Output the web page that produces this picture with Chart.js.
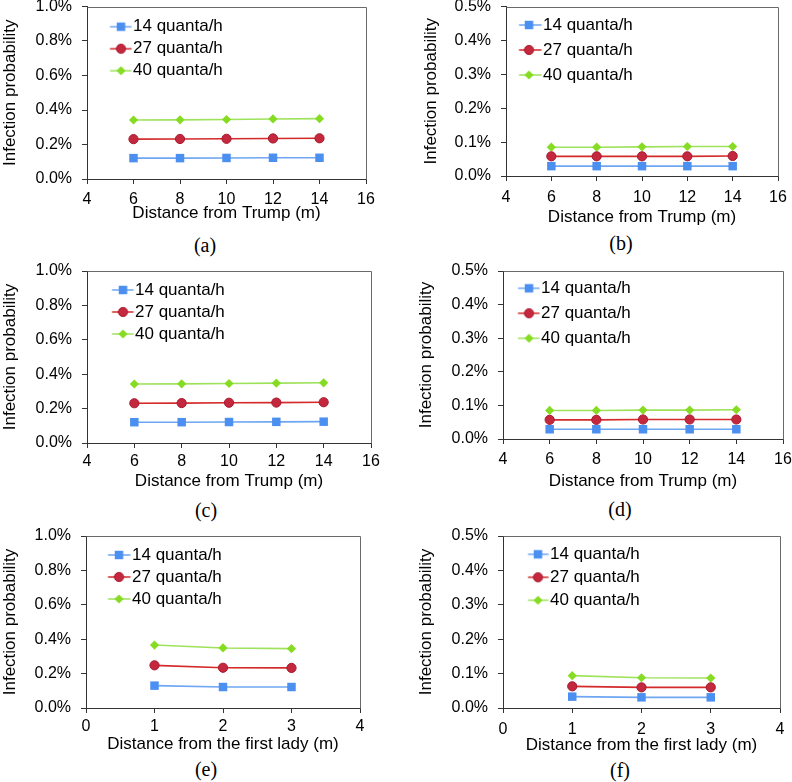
<!DOCTYPE html>
<html><head><meta charset="utf-8">
<script src="https://cdn.jsdelivr.net/npm/chart.js@4.4.1/dist/chart.umd.min.js"></script>
<style>
html,body{margin:0;padding:0;background:#fff;width:792px;height:782px;overflow:hidden;position:relative}
canvas{position:absolute}
.cap{position:absolute;font-family:"Liberation Serif","Times New Roman",serif;font-size:20px;color:#000;transform:translate(-50%,-50%);white-space:nowrap;line-height:1}
</style></head><body>
<script>
// ---------------- data ----------------
const distTrump = [6, 8, 10, 12, 14];
const distLady = [1, 2, 3];
const seriesLabels = ['14 quanta/h', '27 quanta/h', '40 quanta/h'];
const captions = ['(a)', '(b)', '(c)', '(d)', '(e)', '(f)'];
const xTitleTrump = 'Distance from Trump (m)';
const xTitleLady = 'Distance from the first lady (m)';
const yTitleText = 'Infection probability';

// infection probability, in %
const aQ14 = [0.121, 0.121, 0.122, 0.123, 0.123];
const aQ27 = [0.231, 0.232, 0.233, 0.235, 0.236];
const aQ40 = [0.342, 0.343, 0.345, 0.348, 0.350];
const bQ14 = [0.029, 0.029, 0.029, 0.029, 0.029];
const bQ27 = [0.058, 0.058, 0.058, 0.058, 0.059];
const bQ40 = [0.085, 0.085, 0.086, 0.087, 0.087];
const cQ14 = [0.121, 0.121, 0.122, 0.123, 0.124];
const cQ27 = [0.231, 0.232, 0.234, 0.235, 0.237];
const cQ40 = [0.343, 0.344, 0.346, 0.348, 0.350];
const dQ14 = [0.029, 0.029, 0.029, 0.029, 0.029];
const dQ27 = [0.057, 0.057, 0.058, 0.058, 0.058];
const dQ40 = [0.085, 0.085, 0.086, 0.086, 0.087];
const eQ14 = [0.130, 0.122, 0.122];
const eQ27 = [0.248, 0.234, 0.233];
const eQ40 = [0.366, 0.349, 0.345];
const fQ14 = [0.033, 0.031, 0.031];
const fQ27 = [0.063, 0.060, 0.060];
const fQ40 = [0.094, 0.088, 0.087];

// axis ranges [min, max, step]
const xRangeTrump = [4, 16, 2];
const xRangeLady = [0, 4, 1];
const yRangeHigh = [0, 1.0, 0.2];
const yRangeLow = [0, 0.5, 0.1];

// ---------------- styles & layout ----------------
const FONT = '"Liberation Sans", Arial, sans-serif';
const styles = [
  {line: '#6ea6f2', fill: '#4b8ff0', border: '#4b8ff0', shape: 'rect', r: 6},
  {line: '#d42a2a', fill: '#c4283e', border: '#a8182c', shape: 'circle', r: 4.6},
  {line: '#9ee25a', fill: '#86dc22', border: '#86dc22', shape: 'rectRot', r: 4.6}
];

const panels = [
  {x: distTrump, s: [aQ14, aQ27, aQ40], xr: xRangeTrump, yr: yRangeHigh, xt: xTitleTrump,
   g: {cx: 0, cy: 0, L: 87, R: 366, T: 6.5, B: 179, tickY: 200, titleY: 213.5, yTitleX: 10,
       leg: {pad: 5, firstY: 26.7, s: 23, m: 34, t: 46}, cap: [205, 245]}},
  {x: distTrump, s: [bQ14, bQ27, bQ40], xr: xRangeTrump, yr: yRangeLow, xt: xTitleTrump,
   g: {cx: 396, cy: 0, L: 506, R: 778, T: 6.5, B: 176, tickY: 198, titleY: 217, yTitleX: 431,
       leg: {pad: 8, firstY: 25, s: 13, m: 23, t: 37}, cap: [621, 243]}},
  {x: distTrump, s: [cQ14, cQ27, cQ40], xr: xRangeTrump, yr: yRangeHigh, xt: xTitleTrump,
   g: {cx: 0, cy: 255, L: 87, R: 371, T: 271, B: 443, tickY: 462, titleY: 481, yTitleX: 10,
       leg: {pad: 5, firstY: 290, s: 25, m: 36, t: 48}, cap: [206, 510]}},
  {x: distTrump, s: [dQ14, dQ27, dQ40], xr: xRangeTrump, yr: yRangeLow, xt: xTitleTrump,
   g: {cx: 396, cy: 255, L: 503, R: 783, T: 271, B: 439, tickY: 460, titleY: 481, yTitleX: 426,
       leg: {pad: 8, firstY: 288.3, s: 15, m: 26, t: 38}, cap: [620, 509]}},
  {x: distLady, s: [eQ14, eQ27, eQ40], xr: xRangeLady, yr: yRangeHigh, xt: xTitleLady,
   g: {cx: 0, cy: 520, L: 86, R: 360, T: 536, B: 708, tickY: 727, titleY: 744.5, yTitleX: 10,
       leg: {pad: 5, firstY: 555, s: 22, m: 33, t: 46}, cap: [206, 769]}},
  {x: distLady, s: [fQ14, fQ27, fQ40], xr: xRangeLady, yr: yRangeLow, xt: xTitleLady,
   g: {cx: 396, cy: 520, L: 503, R: 780, T: 536, B: 708, tickY: 729.5, titleY: 745.5, yTitleX: 426,
       leg: {pad: 6, firstY: 554.3, s: 25, m: 35, t: 47}, cap: [620, 770]}}
];

Chart.defaults.font.family = FONT;
Chart.defaults.color = '#000';

function drawMarker(ctx, st, x, y) {
  ctx.fillStyle = st.fill; ctx.strokeStyle = st.border; ctx.lineWidth = 1;
  ctx.beginPath();
  if (st.shape === 'rect') {
    const h = st.r * Math.SQRT1_2; ctx.rect(x - h, y - h, 2 * h, 2 * h);
  } else if (st.shape === 'circle') {
    ctx.arc(x, y, st.r, 0, Math.PI * 2);
  } else {
    ctx.moveTo(x - st.r, y); ctx.lineTo(x, y - st.r); ctx.lineTo(x + st.r, y); ctx.lineTo(x, y + st.r); ctx.closePath();
  }
  ctx.fill();
  if (st.shape === 'circle') ctx.stroke();
}

function makeIcon(st, leg) {
  const P = leg.t - leg.pad - 8.5;
  const c = leg.pad + P / 2;
  const lineEnd = leg.t - 1.5;
  const half = Math.max(c - leg.s, lineEnd - c) + 1;
  const W = Math.ceil(2 * half), H = 14;
  const cv = document.createElement('canvas');
  cv.width = W; cv.height = H;
  const ctx = cv.getContext('2d');
  const off = c - W / 2;
  ctx.strokeStyle = st.line; ctx.lineWidth = 1.5;
  ctx.beginPath(); ctx.moveTo(leg.s - off, H / 2); ctx.lineTo(lineEnd - off, H / 2); ctx.stroke();
  drawMarker(ctx, st, leg.m - off, H / 2);
  return {icon: cv, P};
}

const boxPlugin = {
  id: 'box',
  beforeDatasetsDraw(chart) {
    const {ctx, chartArea: a} = chart;
    ctx.save();
    ctx.strokeStyle = '#6a6a6a'; ctx.lineWidth = 1;
    ctx.beginPath();
    ctx.moveTo(Math.round(a.left) + 0.5, Math.round(a.top) + 0.5);
    ctx.lineTo(Math.round(a.right) + 0.5, Math.round(a.top) + 0.5);
    ctx.lineTo(Math.round(a.right) + 0.5, Math.round(a.bottom) + 0.5);
    ctx.stroke();
    ctx.restore();
  }
};

function noPad(s) { s.paddingTop = 0; s.paddingBottom = 0; s.paddingLeft = 0; s.paddingRight = 0; }

panels.forEach((p, idx) => {
  const g = p.g;
  const h = Math.ceil(g.titleY + 10.2 - g.cy + 1);
  const cv = document.createElement('canvas');
  cv.width = 396; cv.height = h;
  cv.style.left = g.cx + 'px'; cv.style.top = g.cy + 'px';
  cv.style.width = '396px'; cv.style.height = h + 'px';
  document.body.appendChild(cv);

  const cap = document.createElement('div');
  cap.className = 'cap';
  cap.textContent = captions[idx];
  cap.style.left = g.cap[0] + 'px'; cap.style.top = g.cap[1] + 'px';
  document.body.appendChild(cap);

  const icons = styles.map(st => makeIcon(st, g.leg));
  const xAxisH = h - (g.B - g.cy);
  // legend box top sits at the canvas top: offset its first row with an empty title block
  const legTitleH = (g.leg.firstY - g.cy) - g.leg.pad - 8.5;

  const datasets = p.s.map((vals, i) => ({
    label: seriesLabels[i],
    data: p.x.map((xv, k) => ({x: xv, y: vals[k]})),
    borderColor: styles[i].line,
    backgroundColor: styles[i].fill,
    pointBackgroundColor: styles[i].fill,
    pointBorderColor: styles[i].border,
    pointBorderWidth: styles[i].shape === 'circle' ? 1 : 0,
    pointStyle: styles[i].shape,
    pointRadius: styles[i].r,
    borderWidth: 1.6,
    tension: 0,
    clip: false
  }));

  new Chart(cv, {
    type: 'line',
    data: {datasets},
    plugins: [boxPlugin],
    options: {
      responsive: false,
      animation: false,
      devicePixelRatio: 1,
      layout: {padding: {left: 0, top: g.T - g.cy, right: g.cx + 396 - g.R, bottom: 0}},
      plugins: {
        tooltip: {enabled: false},
        legend: {
          position: 'chartArea',
          align: 'start',
          title: {display: true, text: ' ', font: {size: 1, lineHeight: 1}, padding: {top: 0, bottom: Math.max(0, legTitleH - 1)}},
          labels: {
            usePointStyle: true,
            pointStyleWidth: icons[0].P,
            padding: g.leg.pad,
            color: '#000',
            font: {size: 17, family: FONT},
            generateLabels: (chart) => chart.data.datasets.map((ds, i) => ({
              text: ds.label,
              pointStyle: icons[i].icon,
              fillStyle: 'rgba(0,0,0,0)',
              strokeStyle: 'rgba(0,0,0,0)',
              lineWidth: 0,
              hidden: false,
              datasetIndex: i,
              fontColor: '#000'
            }))
          }
        }
      },
      scales: {
        x: {
          type: 'linear',
          min: p.xr[0], max: p.xr[1],
          ticks: {stepSize: p.xr[2], padding: g.tickY - g.B - 5 - 9.6, font: {size: 16}, color: '#000', maxRotation: 0},
          grid: {display: true, drawOnChartArea: false, drawTicks: true, tickLength: 5, tickColor: '#333'},
          border: {display: true, color: '#333', width: 1},
          title: {display: true, text: p.xt, font: {size: 17}, color: '#000',
                  padding: {top: 0, bottom: Math.max(0, h - (g.titleY - g.cy) - 10.2)}},
          afterFit: (s) => { s.height = xAxisH; noPad(s); }
        },
        y: {
          type: 'linear',
          min: p.yr[0], max: p.yr[1],
          ticks: {stepSize: p.yr[2], padding: 10, font: {size: 16}, color: '#000',
                  callback: (v) => v.toFixed(1) + '%'},
          grid: {display: true, drawOnChartArea: false, drawTicks: true, tickLength: 5, tickColor: '#333'},
          border: {display: true, color: '#333', width: 1},
          title: {display: true, text: yTitleText, font: {size: 17}, color: '#000',
                  padding: {top: Math.max(0, g.yTitleX - g.cx - 10.2), bottom: 0}},
          afterFit: (s) => { s.width = g.L - g.cx; noPad(s); }
        }
      }
    }
  });
});
</script>
</body></html>
